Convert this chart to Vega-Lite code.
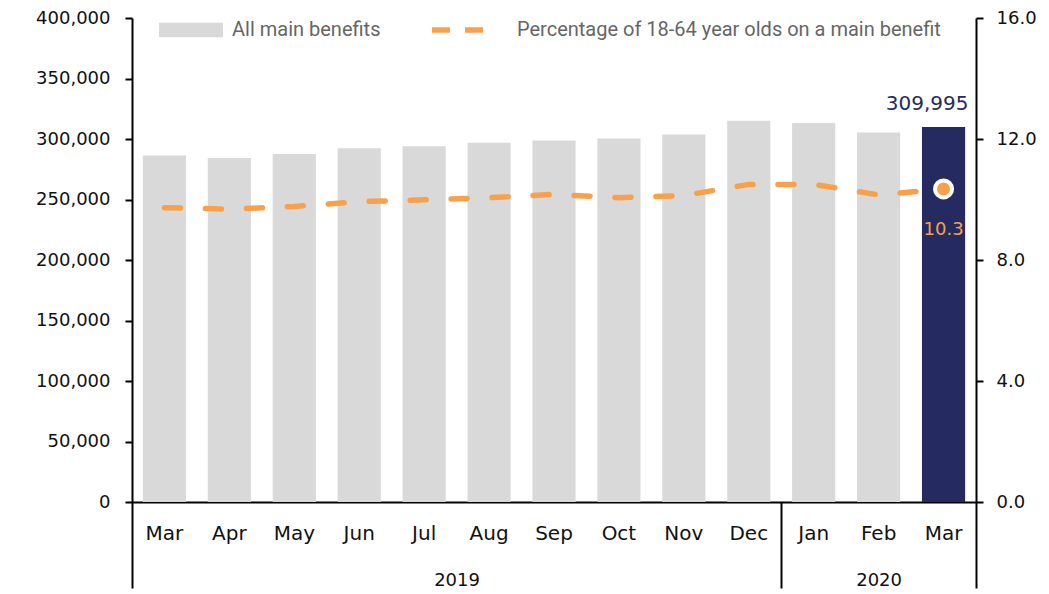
{
  "$schema": "https://vega.github.io/schema/vega-lite/v6.json",
  "width": 844,
  "height": 484,
  "autosize": "none",
  "padding": {"left": 132, "top": 18, "right": 73, "bottom": 92},
  "data": {
    "values": [
      {"key": "Mar 2019", "benefits": 286300, "pct": 9.73},
      {"key": "Apr 2019", "benefits": 284400, "pct": 9.68},
      {"key": "May 2019", "benefits": 287700, "pct": 9.77},
      {"key": "Jun 2019", "benefits": 292300, "pct": 9.93},
      {"key": "Jul 2019", "benefits": 294000, "pct": 9.99},
      {"key": "Aug 2019", "benefits": 297000, "pct": 10.06},
      {"key": "Sep 2019", "benefits": 298700, "pct": 10.17},
      {"key": "Oct 2019", "benefits": 300500, "pct": 10.06},
      {"key": "Nov 2019", "benefits": 303700, "pct": 10.13},
      {"key": "Dec 2019", "benefits": 315000, "pct": 10.5},
      {"key": "Jan 2020", "benefits": 313300, "pct": 10.5},
      {"key": "Feb 2020", "benefits": 305300, "pct": 10.15},
      {"key": "Mar 2020", "benefits": 309995, "pct": 10.35}
    ]
  },
  "config": {
    "view": {"stroke": null},
    "axis": {"grid": false, "labelFont": "DejaVu Sans", "labelColor": "#111", "domainColor": "#000", "tickColor": "#000", "domainWidth": 2, "tickWidth": 2}
  },
  "resolve": {"scale": {"y": "independent"}, "axis": {"x": "independent", "y": "independent"}},
  "layer": [
    {
      "transform": [{"filter": "datum.key !== 'Mar 2020'"}],
      "mark": {"type": "bar", "width": {"band": 0.665}},
      "encoding": {
        "x": {
          "field": "key", "type": "nominal", "sort": null,
          "scale": {"domain": ["Mar 2019","Apr 2019","May 2019","Jun 2019","Jul 2019","Aug 2019","Sep 2019","Oct 2019","Nov 2019","Dec 2019","Jan 2020","Feb 2020","Mar 2020"], "paddingInner": 0, "paddingOuter": 0},
          "axis": {"orient": "bottom", "title": null, "ticks": false, "tickSize": 0, "labelAngle": 0, "labelFontSize": 20, "labelPadding": 21, "labelExpr": "split(datum.value, ' ')[0]"}
        },
        "y": {
          "field": "benefits", "type": "quantitative",
          "scale": {"domain": [0, 400000]},
          "axis": {"orient": "left", "title": null, "values": [0,50000,100000,150000,200000,250000,300000,350000,400000], "format": ",.0f", "labelFontSize": 18, "tickSize": 7, "labelPadding": 15}
        },
        "fill": {
          "datum": "All main benefits",
          "scale": {"range": ["#d9d9d9"]},
          "legend": {"orient": "none", "legendX": 27, "legendY": -20, "title": null, "symbolType": "M-1,-0.23H1V0.23H-1Z", "symbolSize": 4096, "symbolStrokeWidth": 0, "labelFont": "Roboto", "labelFontSize": 20, "labelColor": "#666", "labelOffset": 9, "padding": 0, "labelLimit": 400}
        }
      }
    },
    {
      "transform": [{"filter": "datum.key === 'Mar 2020'"}],
      "mark": {"type": "bar", "width": {"band": 0.665}, "color": "#252b61"},
      "encoding": {
        "x": {"field": "key", "type": "nominal", "sort": null, "axis": null},
        "y": {"field": "benefits", "type": "quantitative", "scale": {"domain": [0, 400000]}, "axis": null}
      }
    },
    {
      "transform": [{"filter": "datum.key === 'Mar 2020'"}],
      "mark": {"type": "text", "align": "right", "baseline": "middle", "dx": 25, "dy": -23, "font": "DejaVu Sans", "fontSize": 20, "color": "#252b61"},
      "encoding": {
        "x": {"field": "key", "type": "nominal", "sort": null, "axis": null},
        "y": {"field": "benefits", "type": "quantitative", "scale": {"domain": [0, 400000]}, "axis": null},
        "text": {"field": "benefits", "type": "quantitative", "format": ",.0f"}
      }
    },
    {
      "mark": {"type": "line", "strokeWidth": 5.5, "strokeDash": [16, 25], "strokeCap": "round"},
      "encoding": {
        "x": {
          "field": "key", "type": "nominal", "sort": null,
          "axis": {
            "orient": "bottom", "title": null, "domain": false, "labelAngle": 0, "labelFontSize": 18,
            "tickBand": "extent", "tickSize": 86, "labelPadding": -17,
            "tickColor": {"condition": {"test": "datum.value === 'Dec 2019' || datum.value === 'Mar 2020' || datum.extra", "value": "#000"}, "value": "transparent"},
            "labelOffset": {"condition": {"test": "datum.value === 'Aug 2019'", "value": -32.5}, "value": 0},
            "labelExpr": "datum.value === 'Aug 2019' ? '2019' : datum.value === 'Feb 2020' ? '2020' : ''"
          }
        },
        "y": {
          "field": "pct", "type": "quantitative",
          "scale": {"domain": [0, 16]},
          "axis": {"orient": "right", "title": null, "values": [0,4,8,12,16], "format": ".1f", "labelFontSize": 18, "tickSize": 7, "labelPadding": 13}
        },
        "stroke": {
          "datum": "Percentage of 18-64 year olds on a main benefit",
          "scale": {"range": ["#f9a04b"]},
          "legend": {"orient": "none", "legendX": 297, "legendY": -17, "title": null, "symbolType": "stroke", "symbolSize": 2704, "symbolStrokeWidth": 5.5, "symbolDash": [18, 15], "labelFont": "Roboto", "labelFontSize": 20, "labelColor": "#666", "labelOffset": 30, "padding": 0, "labelLimit": 600}
        }
      }
    },
    {
      "transform": [{"filter": "datum.key === 'Mar 2020'"}],
      "mark": {"type": "circle", "size": 290, "fill": "#f9a04b", "stroke": "#ffffff", "strokeWidth": 4, "opacity": 1},
      "encoding": {
        "x": {"field": "key", "type": "nominal", "sort": null, "axis": null},
        "y": {"field": "pct", "type": "quantitative", "scale": {"domain": [0, 16]}, "axis": null}
      }
    },
    {
      "transform": [{"filter": "datum.key === 'Mar 2020'"}],
      "mark": {"type": "text", "align": "center", "baseline": "middle", "dy": 41, "font": "DejaVu Sans", "fontSize": 18, "color": "#f9a04b"},
      "encoding": {
        "x": {"field": "key", "type": "nominal", "sort": null, "axis": null},
        "y": {"field": "pct", "type": "quantitative", "scale": {"domain": [0, 16]}, "axis": null},
        "text": {"field": "pct", "type": "quantitative", "format": ".1f"}
      }
    }
  ]
}
